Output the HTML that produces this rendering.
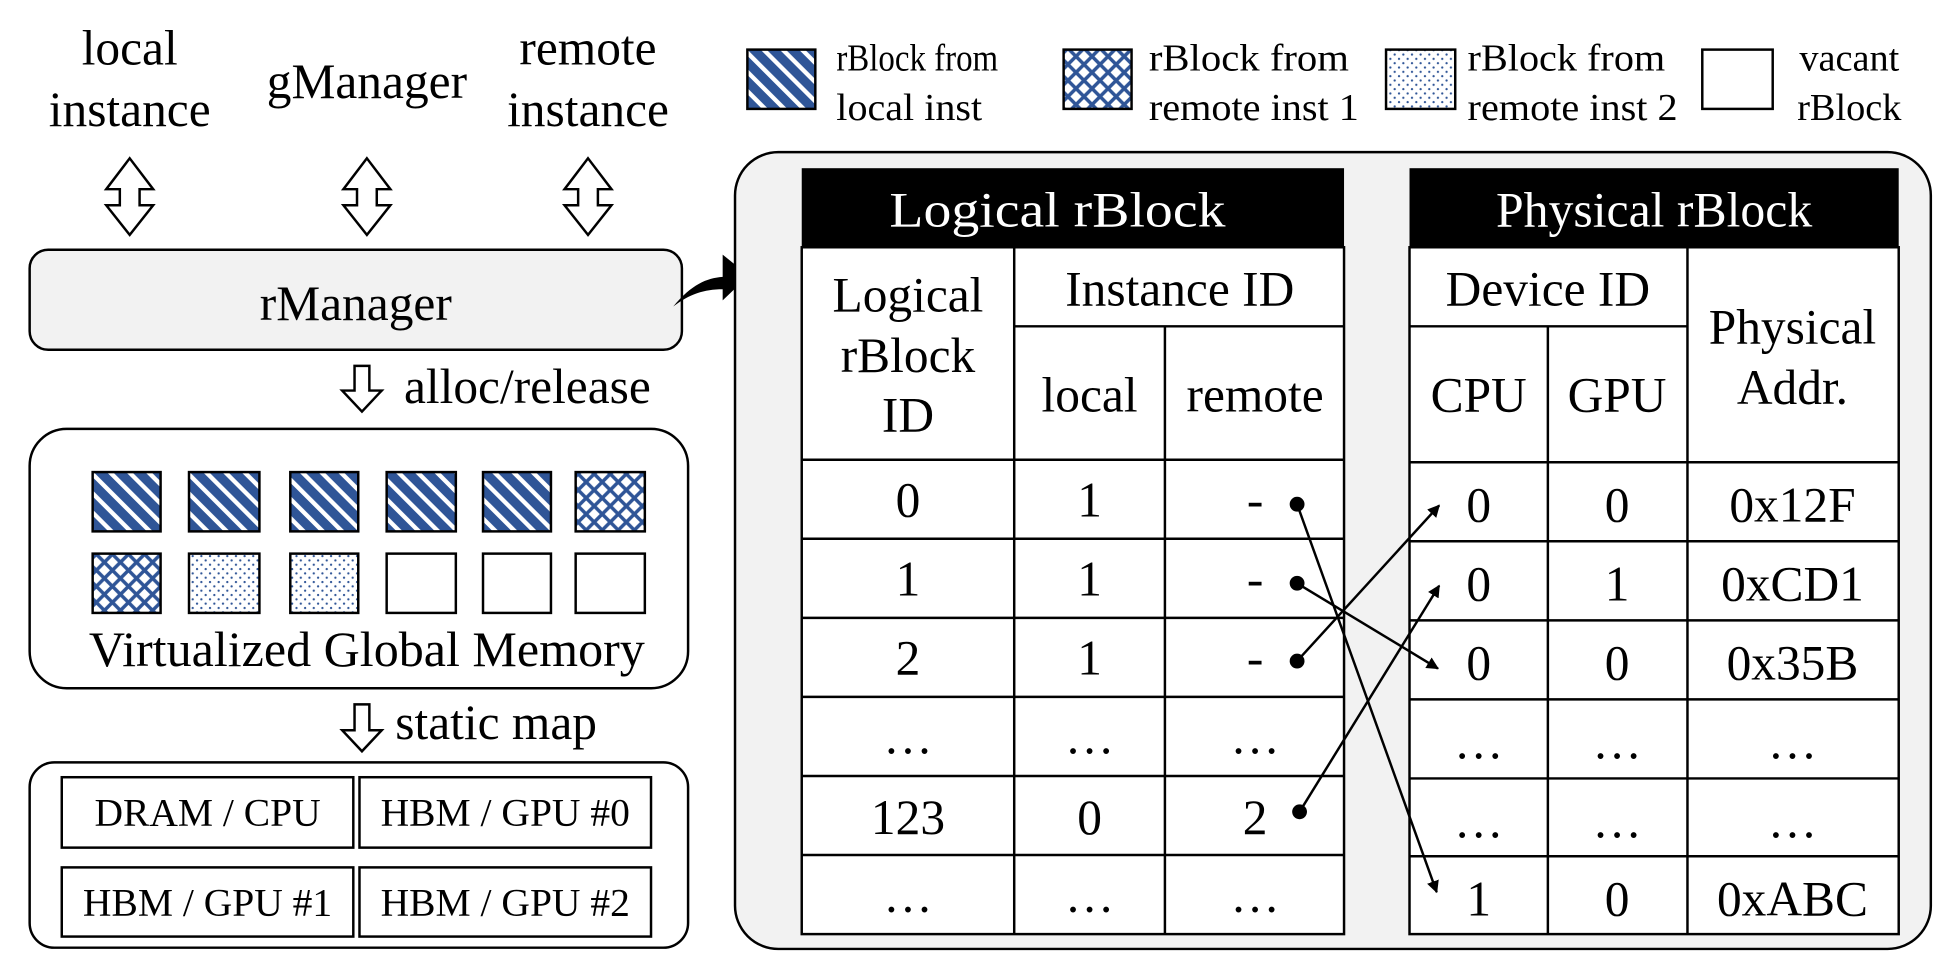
<!DOCTYPE html>
<html><head><meta charset="utf-8"><style>
html,body{margin:0;padding:0;background:#fff}
svg{display:block}
text{font-family:"Liberation Serif",serif;fill:#000}
</style></head><body>
<svg width="1937" height="959" viewBox="0 0 1568 776" xmlns="http://www.w3.org/2000/svg">
<defs>
<pattern id="stripe" width="11" height="11" patternUnits="userSpaceOnUse" patternTransform="rotate(-45)">
<rect width="11" height="11" fill="#2f5597"/><rect x="0" y="0" width="3.5" height="11" fill="#fff"/>
</pattern>
<pattern id="check" width="13" height="13" patternUnits="userSpaceOnUse">
<rect width="13" height="13" fill="#2f5597"/>
<path d="M0,-4.5 L4.5,0 L0,4.5 L-4.5,0Z M13,-4.5 L17.5,0 L13,4.5 L8.5,0Z M0,8.5 L4.5,13 L0,17.5 L-4.5,13Z M13,8.5 L17.5,13 L13,17.5 L8.5,13Z M6.5,2 L11,6.5 L6.5,11 L2,6.5Z" fill="#fff"/>
</pattern>
<pattern id="dots" width="7" height="7" patternUnits="userSpaceOnUse">
<rect width="7" height="7" fill="#fff"/><circle cx="2" cy="2" r="0.9" fill="#2f5597"/><circle cx="5.5" cy="5.5" r="0.9" fill="#2f5597"/>
</pattern>
<marker id="ah" markerWidth="10" markerHeight="10" refX="9" refY="5" orient="auto" markerUnits="userSpaceOnUse">
<path d="M0,0 L10,5 L0,10 Z" fill="#000"/>
</marker>
</defs>

<g font-size="40" text-anchor="middle">
<text x="105" y="52">local</text><text x="105" y="102">instance</text>
<text x="297" y="79">gManager</text>
<text x="476" y="52">remote</text><text x="476" y="102">instance</text>
</g>
<g fill="#fff" stroke="#000" stroke-width="2">
<path d="M105,128 L124,153 L113,153 L113,166 L124,166 L105,190 L86,166 L97,166 L97,153 L86,153 Z"/>
<path d="M297,128 L316,153 L305,153 L305,166 L316,166 L297,190 L278,166 L289,166 L289,153 L278,153 Z"/>
<path d="M476,128 L495,153 L484,153 L484,166 L495,166 L476,190 L457,166 L468,166 L468,153 L457,153 Z"/>
</g>
<rect x="24" y="202" width="528" height="81" rx="15" fill="#f2f2f2" stroke="#000" stroke-width="2"/>
<text x="288" y="259" font-size="40" text-anchor="middle">rManager</text>
<path d="M545,248 C560,230 572,225 585,224 L585,206 L606,223 L585,243 L585,234 C570,234 558,238 545,248 Z" fill="#000"/>

<path d="M287,296 L299,296 L299,316 L309,316 L293,333 L277,316 L287,316 Z" fill="#fff" stroke="#000" stroke-width="2"/>
<text x="327" y="326" font-size="40">alloc/release</text>

<rect x="24" y="347" width="533" height="210" rx="30" fill="#fff" stroke="#000" stroke-width="2"/>
<g stroke="#000" stroke-width="2">
<rect x="75" y="382" width="55" height="48" fill="url(#stripe)"/>
<rect x="153" y="382" width="57" height="48" fill="url(#stripe)"/>
<rect x="235" y="382" width="55" height="48" fill="url(#stripe)"/>
<rect x="313" y="382" width="56" height="48" fill="url(#stripe)"/>
<rect x="391" y="382" width="55" height="48" fill="url(#stripe)"/>
<rect x="466" y="382" width="56" height="48" fill="url(#check)"/>
<rect x="75" y="448" width="55" height="48" fill="url(#check)"/>
<rect x="153" y="448" width="57" height="48" fill="url(#dots)"/>
<rect x="235" y="448" width="55" height="48" fill="url(#dots)"/>
<rect x="313" y="448" width="56" height="48" fill="#fff"/>
<rect x="391" y="448" width="55" height="48" fill="#fff"/>
<rect x="466" y="448" width="56" height="48" fill="#fff"/>
</g>
<text x="297" y="539" font-size="40" text-anchor="middle" textLength="450" lengthAdjust="spacingAndGlyphs">Virtualized Global Memory</text>

<path d="M287,570 L299,570 L299,591 L309,591 L293,608 L277,591 L287,591 Z" fill="#fff" stroke="#000" stroke-width="2"/>
<text x="320" y="598" font-size="40">static map</text>

<rect x="24" y="617" width="533" height="150" rx="20" fill="#fff" stroke="#000" stroke-width="2"/>
<g fill="#fff" stroke="#000" stroke-width="2">
<rect x="50" y="629" width="236" height="57"/><rect x="291" y="629" width="236" height="57"/>
<rect x="50" y="702" width="236" height="56"/><rect x="291" y="702" width="236" height="56"/>
</g>
<g font-size="32" text-anchor="middle">
<text x="168" y="668">DRAM / CPU</text><text x="409" y="668">HBM / GPU #0</text>
<text x="168" y="741">HBM / GPU #1</text><text x="409" y="741">HBM / GPU #2</text>
</g>

<g stroke="#000" stroke-width="2">
<rect x="605" y="40" width="55" height="48" fill="url(#stripe)"/>
<rect x="861" y="40" width="55" height="48" fill="url(#check)"/>
<rect x="1122" y="40" width="56" height="48" fill="url(#dots)"/>
<rect x="1378" y="40" width="57" height="48" fill="#fff"/>
</g>
<g font-size="31">
<text x="677" y="57" textLength="131" lengthAdjust="spacingAndGlyphs">rBlock from</text><text x="677" y="97" textLength="118" lengthAdjust="spacingAndGlyphs">local inst</text>
<text x="930" y="57" textLength="162" lengthAdjust="spacingAndGlyphs">rBlock from</text><text x="930" y="97" textLength="170" lengthAdjust="spacingAndGlyphs">remote inst 1</text>
<text x="1188" y="57" textLength="160" lengthAdjust="spacingAndGlyphs">rBlock from</text><text x="1188" y="97" textLength="170" lengthAdjust="spacingAndGlyphs">remote inst 2</text>
<text x="1497" y="57" text-anchor="middle">vacant</text><text x="1497" y="97" text-anchor="middle">rBlock</text>
</g>

<rect x="595" y="123" width="968" height="645" rx="35" fill="#f2f2f2" stroke="#000" stroke-width="2"/>

<rect x="649" y="136" width="439" height="64" fill="#000"/>
<text x="720" y="183" font-size="40" textLength="272" lengthAdjust="spacingAndGlyphs" style="fill:#fff">Logical rBlock</text>
<rect x="649" y="200" width="439" height="556" fill="#fff" stroke="#000" stroke-width="2"/>
<g stroke="#000" stroke-width="2">
<line x1="821" y1="200" x2="821" y2="756"/><line x1="943" y1="264" x2="943" y2="756"/>
<line x1="821" y1="264" x2="1088" y2="264"/>
<line x1="649" y1="372" x2="1088" y2="372"/><line x1="649" y1="436" x2="1088" y2="436"/>
<line x1="649" y1="500" x2="1088" y2="500"/><line x1="649" y1="564" x2="1088" y2="564"/>
<line x1="649" y1="628" x2="1088" y2="628"/><line x1="649" y1="692" x2="1088" y2="692"/>
</g>
<g font-size="40" text-anchor="middle">
<text x="735" y="252">Logical</text><text x="735" y="301">rBlock</text><text x="735" y="349">ID</text>
<text x="955" y="247">Instance ID</text>
<text x="882" y="333">local</text><text x="1016" y="333">remote</text>
<text x="735" y="418">0</text><text x="882" y="418">1</text><text x="1016" y="418">-</text>
<text x="735" y="482">1</text><text x="882" y="482">1</text><text x="1016" y="482">-</text>
<text x="735" y="546">2</text><text x="882" y="546">1</text><text x="1016" y="546">-</text>
<text x="735" y="610">…</text><text x="882" y="610">…</text><text x="1016" y="610">…</text>
<text x="735" y="675">123</text><text x="882" y="675">0</text><text x="1016" y="675">2</text>
<text x="735" y="738">…</text><text x="882" y="738">…</text><text x="1016" y="738">…</text>
</g>

<rect x="1141" y="136" width="396" height="64" fill="#000"/>
<text x="1211" y="183" font-size="40" textLength="256" lengthAdjust="spacingAndGlyphs" style="fill:#fff">Physical rBlock</text>
<rect x="1141" y="200" width="396" height="556" fill="#fff" stroke="#000" stroke-width="2"/>
<g stroke="#000" stroke-width="2">
<line x1="1366" y1="200" x2="1366" y2="756"/><line x1="1253" y1="264" x2="1253" y2="756"/>
<line x1="1141" y1="264" x2="1366" y2="264"/>
<line x1="1141" y1="374" x2="1537" y2="374"/><line x1="1141" y1="438" x2="1537" y2="438"/>
<line x1="1141" y1="502" x2="1537" y2="502"/><line x1="1141" y1="566" x2="1537" y2="566"/>
<line x1="1141" y1="630" x2="1537" y2="630"/><line x1="1141" y1="693" x2="1537" y2="693"/>
</g>
<g font-size="40" text-anchor="middle">
<text x="1253" y="247">Device ID</text>
<text x="1197" y="333">CPU</text><text x="1309" y="333">GPU</text>
<text x="1451" y="278">Physical</text><text x="1451" y="327">Addr.</text>
<text x="1197" y="422">0</text><text x="1309" y="422">0</text><text x="1451" y="422">0x12F</text>
<text x="1197" y="486">0</text><text x="1309" y="486">1</text><text x="1451" y="486">0xCD1</text>
<text x="1197" y="550">0</text><text x="1309" y="550">0</text><text x="1451" y="550">0x35B</text>
<text x="1197" y="614">…</text><text x="1309" y="614">…</text><text x="1451" y="614">…</text>
<text x="1197" y="678">…</text><text x="1309" y="678">…</text><text x="1451" y="678">…</text>
<text x="1197" y="741">1</text><text x="1309" y="741">0</text><text x="1451" y="741">0xABC</text>
</g>

<g stroke="#000" stroke-width="2" fill="none">
<line x1="1050" y1="408" x2="1163" y2="722" marker-end="url(#ah)"/>
<line x1="1050" y1="472" x2="1164" y2="541" marker-end="url(#ah)"/>
<line x1="1050" y1="535" x2="1165" y2="409" marker-end="url(#ah)"/>
<line x1="1052" y1="657" x2="1165" y2="474" marker-end="url(#ah)"/>
</g>
<g fill="#000">
<circle cx="1050" cy="408" r="6"/><circle cx="1050" cy="472" r="6"/>
<circle cx="1050" cy="535" r="6"/><circle cx="1052" cy="657" r="6"/>
</g>
</svg>
</body></html>
